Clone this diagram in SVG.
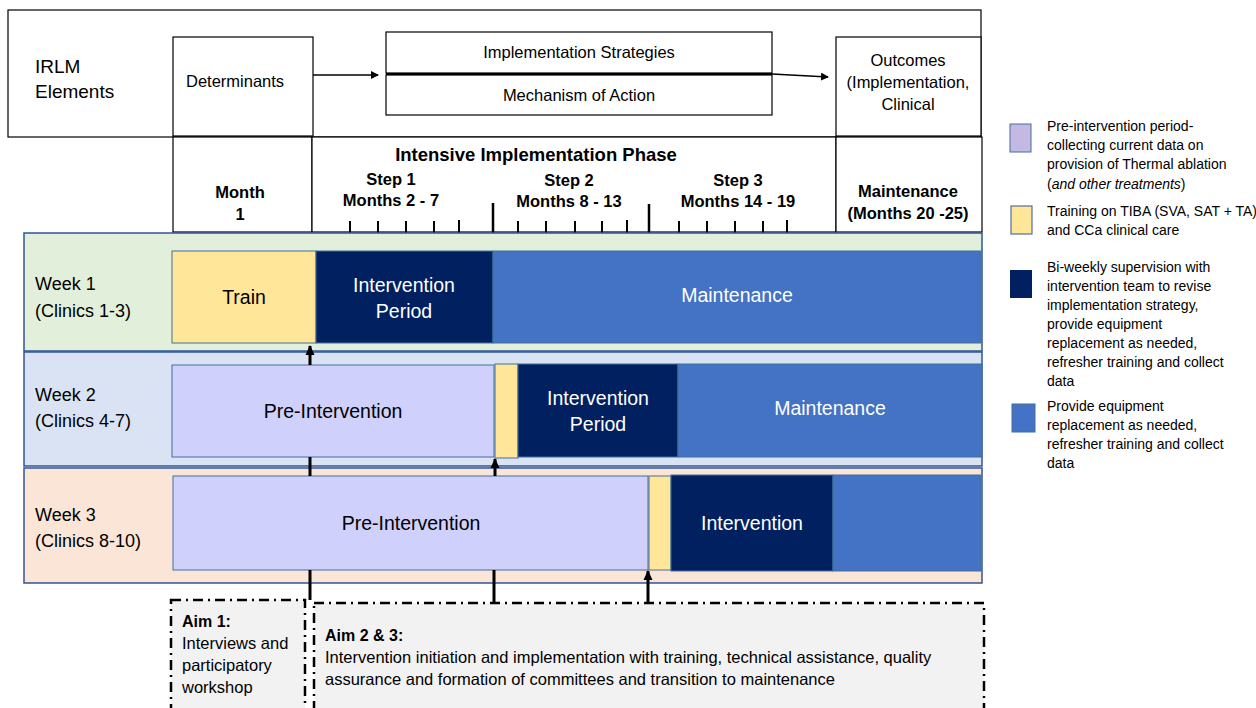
<svg xmlns="http://www.w3.org/2000/svg" width="1256" height="708" viewBox="0 0 1256 708">
<style>
text{font-family:"Liberation Sans",Arial,sans-serif;fill:#000}
.b{font-weight:bold}
.box{fill:#fff;stroke:#000;stroke-width:1.2}
.row{stroke:#2f5597;stroke-width:1.5}
.bar{stroke:#41719c;stroke-width:1}
.w{fill:#fff}
.c{text-anchor:middle}
.tick{stroke:#000;stroke-width:2}
.big{stroke:#000;stroke-width:2.5}
.conn{stroke:#000;stroke-width:3;fill:none}
.thin{stroke:#000;stroke-width:1.3;fill:none}
.aim{fill:#f2f2f2;stroke:#000;stroke-width:2.5;stroke-dasharray:10 5 2 5}
.lg{font-size:14px}
.t{font-size:16.5px}
.h{font-size:16.5px;font-weight:bold;text-anchor:middle}
.rl{font-size:18px}
.bt{font-size:19.5px;text-anchor:middle}
.at{font-size:16.5px}
</style>
<defs>
<marker id="ah" markerWidth="8" markerHeight="8" refX="7" refY="4" orient="auto" markerUnits="userSpaceOnUse"><path d="M0,0 L8,4 L0,8 z" fill="#000"/></marker>
<marker id="ahb" markerWidth="10" markerHeight="10" refX="9" refY="5" orient="auto" markerUnits="userSpaceOnUse"><path d="M0,0.5 L10,5 L0,9.5 z" fill="#000"/></marker>
</defs>

<g id="irlm">
<rect class="box" x="8" y="10" width="973" height="127"/>
<text x="35" y="73" font-size="19">IRLM</text>
<text x="35" y="98" font-size="19">Elements</text>
</g>
<g id="determinants">
<rect class="box" x="173" y="37" width="140" height="99"/>
<text class="t" x="186" y="87">Determinants</text>
</g>
<g id="strategies">
<rect class="box" x="386" y="32" width="386" height="41"/>
<text class="t c" x="579" y="58">Implementation Strategies</text>
</g>
<g id="mechanism">
<rect class="box" x="386" y="75" width="386" height="40"/>
<line x1="386" y1="74" x2="772" y2="74" stroke="#000" stroke-width="2"/>
<text class="t c" x="579" y="101">Mechanism of Action</text>
</g>
<g id="outcomes">
<rect class="box" x="836" y="37" width="145" height="99"/>
<text class="t c" x="908" y="66">Outcomes</text>
<text class="t c" x="908" y="88">(Implementation,</text>
<text class="t c" x="908" y="110">Clinical</text>
</g>
<g id="month1">
<rect class="box" x="173" y="137" width="139" height="95"/>
<text class="h" x="240" y="198">Month</text>
<text class="h" x="240" y="220">1</text>
</g>
<g id="phase">
<rect class="box" x="312" y="137" width="524" height="95"/>
<text class="b c" x="536" y="161" font-size="18.5">Intensive Implementation Phase</text>
<text class="h" x="391" y="185">Step 1</text>
<text class="h" x="391" y="206">Months 2 - 7</text>
<text class="h" x="569" y="186">Step 2</text>
<text class="h" x="569" y="207">Months 8 - 13</text>
<text class="h" x="738" y="186">Step 3</text>
<text class="h" x="738" y="207">Months 14 - 19</text>
<g>
<line class="tick" x1="350" y1="221" x2="350" y2="234"/>
<line class="tick" x1="378" y1="221" x2="378" y2="234"/>
<line class="tick" x1="406" y1="221" x2="406" y2="234"/>
<line class="tick" x1="434" y1="221" x2="434" y2="234"/>
<line class="tick" x1="459" y1="220" x2="459" y2="234"/>
<line class="big" x1="493" y1="203" x2="493" y2="234"/>
<line class="tick" x1="518" y1="221" x2="518" y2="234"/>
<line class="tick" x1="546" y1="221" x2="546" y2="234"/>
<line class="tick" x1="575" y1="221" x2="575" y2="234"/>
<line class="tick" x1="602" y1="221" x2="602" y2="234"/>
<line class="tick" x1="627" y1="220" x2="627" y2="234"/>
<line class="big" x1="649" y1="204" x2="649" y2="235"/>
<line class="tick" x1="679" y1="221" x2="679" y2="234"/>
<line class="tick" x1="707" y1="221" x2="707" y2="234"/>
<line class="tick" x1="735" y1="221" x2="735" y2="234"/>
<line class="tick" x1="763" y1="221" x2="763" y2="234"/>
<line class="tick" x1="787" y1="220" x2="787" y2="234"/>
</g>
</g>
<g id="maintenance-head">
<rect class="box" x="836" y="137" width="146" height="95"/>
<text class="h" x="908" y="197">Maintenance</text>
<text class="h" x="908" y="219">(Months 20 -25)</text>
</g>

<g id="week1">
<rect class="row" x="24" y="233" width="958" height="118" fill="#e2efda"/>
<text class="rl" x="35" y="290">Week 1</text>
<text class="rl" x="35" y="317">(Clinics 1-3)</text>
<rect class="bar" x="172" y="251" width="144" height="92" fill="#ffe699"/>
<text class="bt" x="244" y="304">Train</text>
<rect class="bar" x="316" y="251" width="177" height="92" fill="#002060"/>
<text class="bt w" x="404" y="292">Intervention</text>
<text class="bt w" x="404" y="318">Period</text>
<rect class="bar" x="493" y="251" width="488" height="92" fill="#4472c4"/>
<text class="bt w" x="737" y="302">Maintenance</text>
</g>
<g id="week2">
<rect class="row" x="24" y="352" width="958" height="114" fill="#dae3f3"/>
<text class="rl" x="35" y="401">Week 2</text>
<text class="rl" x="35" y="427">(Clinics 4-7)</text>
<rect class="bar" x="172" y="365" width="322" height="92" fill="#cfd0fc"/>
<text class="bt" x="333" y="418">Pre-Intervention</text>
<rect class="bar" x="495" y="364" width="23" height="94" fill="#ffe699"/>
<rect class="bar" x="518" y="364" width="160" height="93" fill="#002060"/>
<text class="bt w" x="598" y="405">Intervention</text>
<text class="bt w" x="598" y="431">Period</text>
<rect class="bar" x="678" y="364" width="304" height="93" fill="#4472c4"/>
<text class="bt w" x="830" y="415">Maintenance</text>
</g>
<g id="week3">
<rect class="row" x="24" y="468" width="958" height="115" fill="#fbe5d6"/>
<text class="rl" x="35" y="521">Week 3</text>
<text class="rl" x="35" y="547">(Clinics 8-10)</text>
<rect class="bar" x="173" y="476" width="475" height="94" fill="#cfd0fc"/>
<text class="bt" x="411" y="530">Pre-Intervention</text>
<rect class="bar" x="649" y="476" width="22" height="94" fill="#ffe699"/>
<rect class="bar" x="671" y="475" width="162" height="96" fill="#002060"/>
<text class="bt w" x="752" y="530">Intervention</text>
<rect class="bar" x="833" y="475" width="148" height="96" fill="#4472c4"/>
</g>

<g id="aim1">
<rect class="aim" x="171" y="600" width="134" height="110"/>
<text class="b" x="182" y="627" font-size="16">Aim 1:</text>
<text class="at" x="182" y="649">Interviews and</text>
<text class="at" x="182" y="671">participatory</text>
<text class="at" x="182" y="693">workshop</text>
</g>
<g id="aim23">
<rect class="aim" x="314" y="603" width="670" height="110"/>
<text class="b" x="325" y="641" font-size="16">Aim 2 &amp; 3:</text>
<text class="at" x="325" y="663">Intervention initiation and implementation with training, technical assistance, quality</text>
<text class="at" x="325" y="685">assurance and formation of committees and transition to maintenance</text>
</g>

<g id="legend">
<rect x="1010" y="124" width="21" height="28" fill="#c4b9e2" stroke="#41719c" stroke-width="1"/>
<text class="lg" x="1047" y="131">Pre-intervention period-</text>
<text class="lg" x="1047" y="150">collecting current data on</text>
<text class="lg" x="1047" y="169">provision of Thermal ablation</text>
<text class="lg" x="1047" y="189">(<tspan font-style="italic">and other treatments</tspan>)</text>
<rect x="1011" y="206" width="21" height="28" fill="#ffe699" stroke="#2f5597" stroke-width="1"/>
<text class="lg" x="1047" y="216">Training on TIBA (SVA, SAT + TA)</text>
<text class="lg" x="1047" y="235">and CCa clinical care</text>
<rect x="1010" y="270" width="22" height="28" fill="#002060"/>
<text class="lg" x="1047" y="272">Bi-weekly supervision with</text>
<text class="lg" x="1047" y="291">intervention team to revise</text>
<text class="lg" x="1047" y="310">implementation strategy,</text>
<text class="lg" x="1047" y="329">provide equipment</text>
<text class="lg" x="1047" y="348">replacement as needed,</text>
<text class="lg" x="1047" y="367">refresher training and collect</text>
<text class="lg" x="1047" y="386">data</text>
<rect x="1012" y="404" width="23" height="28" fill="#4472c4" stroke="#41719c" stroke-width="1"/>
<text class="lg" x="1047" y="411">Provide equipment</text>
<text class="lg" x="1047" y="430">replacement as needed,</text>
<text class="lg" x="1047" y="449">refresher training and collect</text>
<text class="lg" x="1047" y="468">data</text>
</g>

<g id="connectors">
<line class="thin" x1="313" y1="75" x2="378" y2="75" marker-end="url(#ah)"/>
<line class="thin" x1="772" y1="74" x2="828" y2="77" marker-end="url(#ah)"/>
<line class="conn" x1="310" y1="600" x2="310" y2="570"/>
<line class="conn" x1="310" y1="476" x2="310" y2="457"/>
<line class="conn" x1="310" y1="365" x2="310" y2="346" marker-end="url(#ahb)"/>
<line class="conn" x1="494" y1="603" x2="494" y2="570"/>
<line class="conn" x1="495" y1="476" x2="495" y2="459" marker-end="url(#ahb)"/>
<line class="conn" x1="648" y1="603" x2="648" y2="571" marker-end="url(#ahb)"/>
</g>
</svg>
